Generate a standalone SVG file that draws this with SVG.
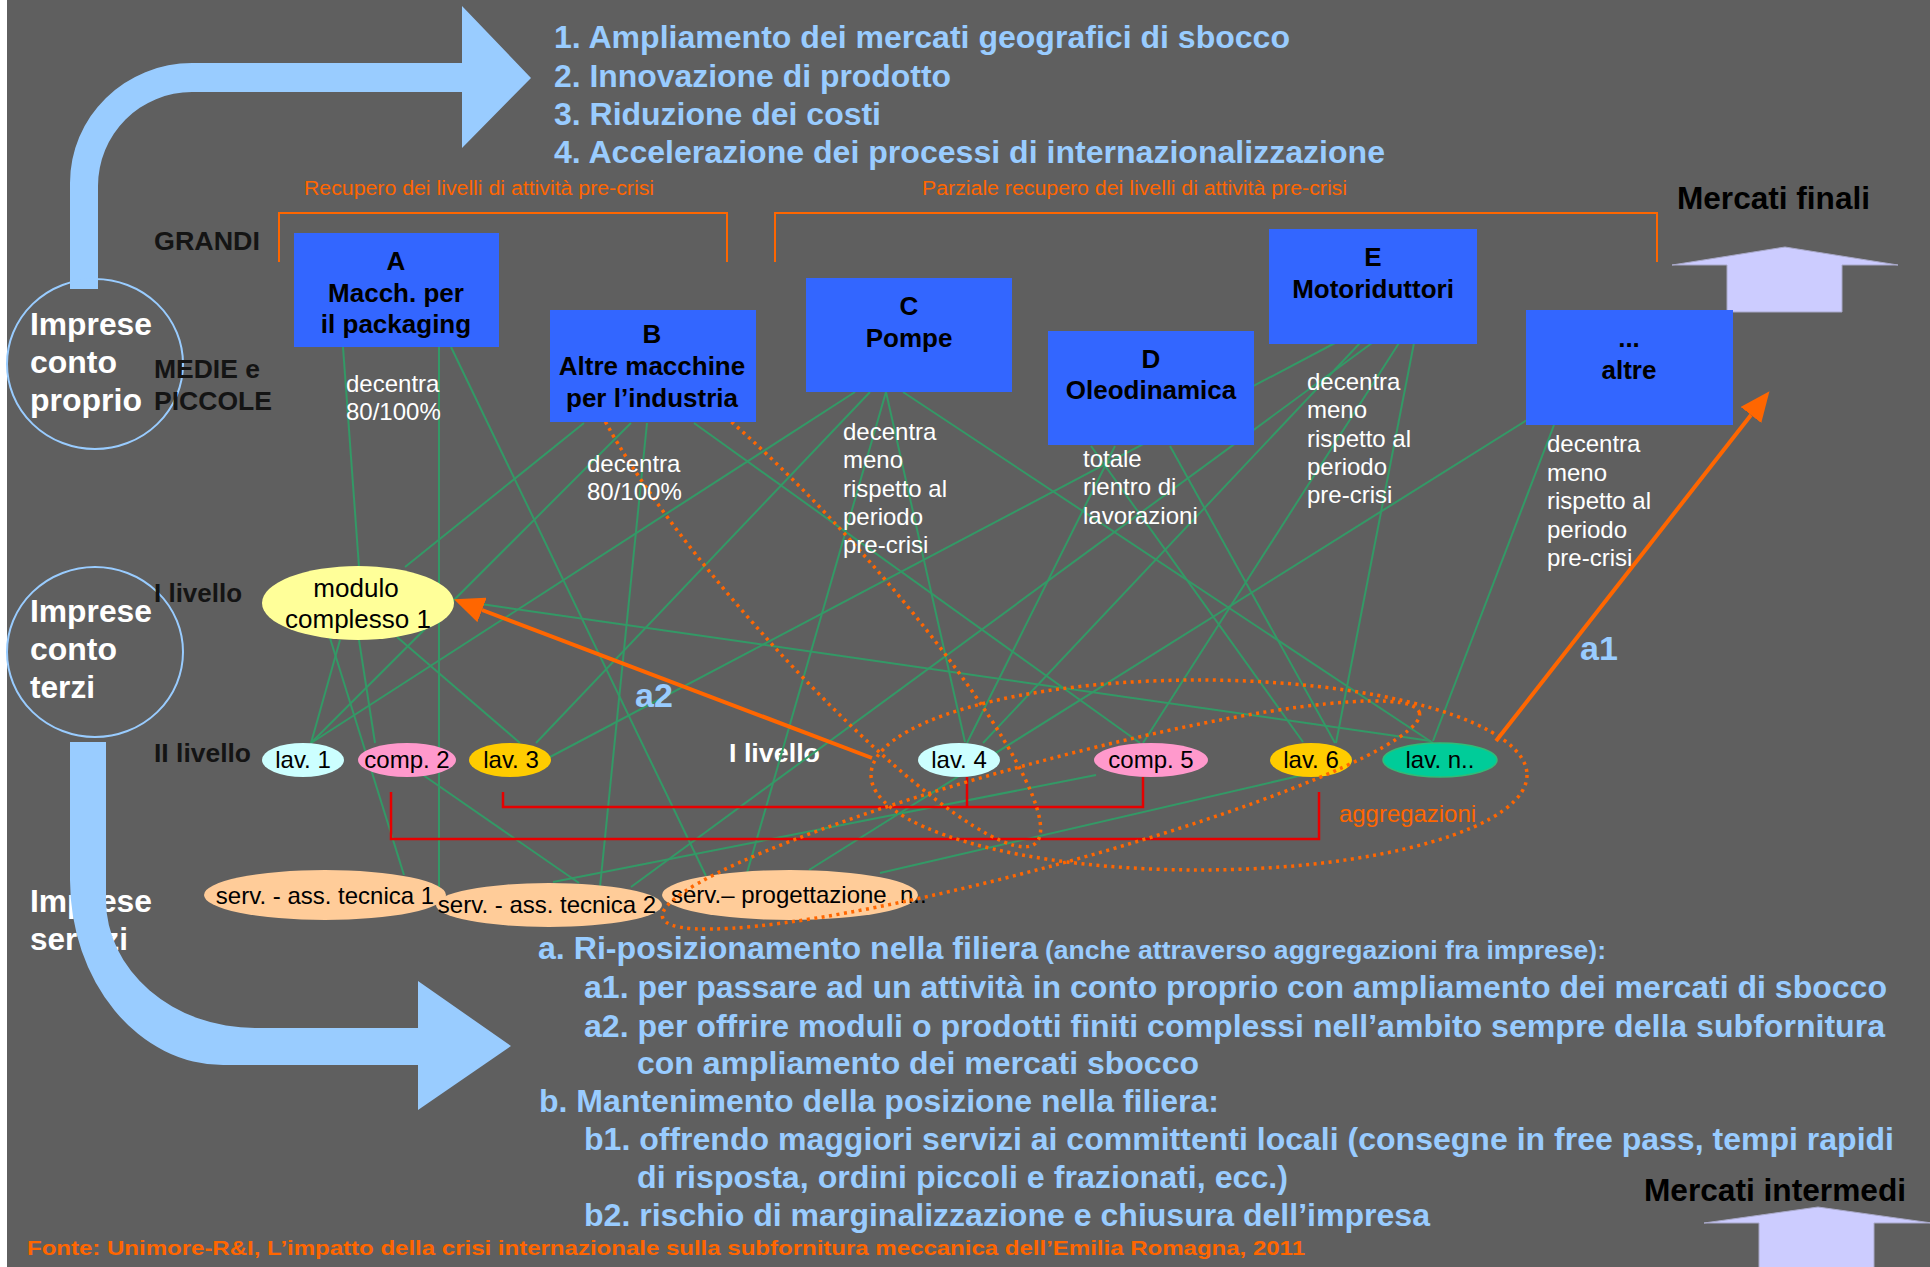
<svg xmlns="http://www.w3.org/2000/svg" width="1930" height="1267" viewBox="0 0 1930 1267">
<style>
text { font-family: "Liberation Sans", Arial, sans-serif; }
.lb { fill: #99ccff; font-weight: bold; font-size: 32px; }
.dk { fill: #141414; font-weight: bold; font-size: 26px; }
.wh { fill: #ffffff; font-size: 24px; }
.wc { fill: #ffffff; font-weight: bold; font-size: 32px; }
.bx { fill: #3366ff; }
.bt { fill: #000000; font-weight: bold; font-size: 26px; text-anchor: middle; }
.nt { fill: #000000; font-size: 24px; text-anchor: middle; }
.ol { fill: #ff6600; font-size: 20px; }
.gl line { stroke: #339966; stroke-width: 2; }
.red { stroke: #e60000; stroke-width: 2.5; fill: none; }
.dot { fill: none; stroke: #ff6600; stroke-width: 3.5; stroke-dasharray: 3 4.5; }
.arr { stroke: #ff6600; stroke-width: 4; fill: none; }
.big { fill: #99ccff; }
.circ { fill: none; stroke: #99ccff; stroke-width: 2; }
.up { fill: #ccccff; stroke: #a8a8c8; stroke-width: 1; }
</style>
<defs>
<marker id="ah" markerUnits="userSpaceOnUse" markerWidth="30" markerHeight="26" refX="0" refY="13" orient="auto">
<path d="M0,0 L30,13 L0,26 Z" fill="#ff6600"/>
</marker>
</defs>

<rect x="0" y="0" width="1930" height="1267" fill="#5f5f5f"/>
<rect x="0" y="0" width="7" height="1267" fill="#ffffff"/>

<!-- text under the lower arrow -->
<g id="label-servizi">
<text class="wc" x="30" y="912" textLength="122" lengthAdjust="spacingAndGlyphs">Imprese</text>
<text class="wc" x="30" y="950" textLength="98" lengthAdjust="spacingAndGlyphs">servizi</text>
</g>

<!-- big curved arrows -->
<g id="arrow-top">
<path class="big" d="M70,289 L70,183 A122,120 0 0 1 192,63 L462,63 L462,6 L531,78 L462,148 L462,92 L192,92 A94,94 0 0 0 98,186 L98,289 Z"/>
</g>
<g id="arrow-bottom">
<path class="big" d="M70,742 L106,742 L106,900 A149,128 0 0 0 255,1028 L418,1028 L418,981 L511,1046 L418,1110 L418,1065 L223,1065 A153,185 0 0 1 70,880 Z"/>
</g>

<!-- circles -->
<g id="circle-proprio">
<ellipse class="circ" cx="95" cy="364" rx="88" ry="85"/>
<text class="wc" x="30" y="335" textLength="122" lengthAdjust="spacingAndGlyphs">Imprese</text>
<text class="wc" x="30" y="373" textLength="87" lengthAdjust="spacingAndGlyphs">conto</text>
<text class="wc" x="30" y="411" textLength="112" lengthAdjust="spacingAndGlyphs">proprio</text>
</g>
<g id="circle-terzi">
<ellipse class="circ" cx="95" cy="652" rx="88" ry="85"/>
<text class="wc" x="30" y="622" textLength="122" lengthAdjust="spacingAndGlyphs">Imprese</text>
<text class="wc" x="30" y="660" textLength="87" lengthAdjust="spacingAndGlyphs">conto</text>
<text class="wc" x="30" y="698" textLength="65" lengthAdjust="spacingAndGlyphs">terzi</text>
</g>

<!-- row labels -->
<g id="row-labels">
<text class="dk" x="154" y="250" textLength="106" lengthAdjust="spacingAndGlyphs">GRANDI</text>
<text class="dk" x="154" y="378" textLength="106" lengthAdjust="spacingAndGlyphs">MEDIE e</text>
<text class="dk" x="154" y="410" textLength="118" lengthAdjust="spacingAndGlyphs">PICCOLE</text>
<text class="dk" x="154" y="602" textLength="88" lengthAdjust="spacingAndGlyphs">I livello</text>
<text class="dk" x="154" y="762" textLength="97" lengthAdjust="spacingAndGlyphs">II livello</text>
<text class="dk" x="729" y="762" textLength="91" lengthAdjust="spacingAndGlyphs" fill="#ffffff" style="fill:#ffffff">I livello</text>
</g>

<!-- top list -->
<g id="top-list">
<text class="lb" x="554" y="48" textLength="736" lengthAdjust="spacingAndGlyphs">1. Ampliamento dei mercati geografici di sbocco</text>
<text class="lb" x="554" y="87" textLength="397" lengthAdjust="spacingAndGlyphs">2. Innovazione di prodotto</text>
<text class="lb" x="554" y="125" textLength="327" lengthAdjust="spacingAndGlyphs">3. Riduzione dei costi</text>
<text class="lb" x="554" y="163" textLength="831" lengthAdjust="spacingAndGlyphs">4. Accelerazione dei processi di internazionalizzazione</text>
</g>

<!-- orange brackets -->
<g id="brackets">
<path d="M279,262 V213 H727 V262" fill="none" stroke="#ff6600" stroke-width="2"/>
<path d="M775,262 V213 H1657 V262" fill="none" stroke="#ff6600" stroke-width="2"/>
<text class="ol" x="304" y="195" textLength="350" lengthAdjust="spacingAndGlyphs">Recupero dei livelli di attività pre-crisi</text>
<text class="ol" x="922" y="195" textLength="425" lengthAdjust="spacingAndGlyphs">Parziale recupero dei livelli di attività pre-crisi</text>
</g>

<!-- market arrows -->
<g id="mercati-finali">
<path class="up" d="M1672,265 L1785,247 L1898,265 L1842,265 L1842,312 L1727,312 L1727,265 Z"/>
<text class="b" x="1677" y="209" font-size="31" font-weight="bold" fill="#000000" textLength="193" lengthAdjust="spacingAndGlyphs">Mercati finali</text>
</g>
<g id="mercati-intermedi">
<path class="up" d="M1704,1223 L1818,1207 L1932,1223 L1874,1223 L1874,1270 L1759,1270 L1759,1223 Z"/>
<text x="1644" y="1201" font-size="32" font-weight="bold" fill="#000000" textLength="262" lengthAdjust="spacingAndGlyphs">Mercati intermedi</text>
</g>

<!-- connectors -->
<g id="connectors">
<g class="gl">
<line x1="343" y1="347" x2="359" y2="567"/>
<line x1="439" y1="347" x2="439" y2="887"/>
<line x1="451" y1="347" x2="706" y2="876"/>
<line x1="584" y1="423" x2="405" y2="567"/>
<line x1="631" y1="423" x2="311" y2="743"/>
<line x1="647" y1="423" x2="600" y2="887"/>
<line x1="694" y1="423" x2="1140" y2="743"/>
<line x1="340" y1="640" x2="311" y2="743"/>
<line x1="330" y1="638" x2="404" y2="875"/>
<line x1="359" y1="640" x2="375" y2="743"/>
<line x1="397" y1="637" x2="520" y2="743"/>
<line x1="474" y1="603" x2="1431" y2="741"/>
<line x1="855" y1="392" x2="311" y2="743"/>
<line x1="870" y1="392" x2="536" y2="743"/>
<line x1="886" y1="392" x2="747" y2="873"/>
<line x1="886" y1="392" x2="965" y2="742"/>
<line x1="903" y1="392" x2="1433" y2="743"/>
<line x1="1115" y1="446" x2="967" y2="743"/>
<line x1="1091" y1="446" x2="1303" y2="742"/>
<line x1="1170" y1="446" x2="1335" y2="743"/>
<line x1="1335" y1="343" x2="550" y2="757"/>
<line x1="1372" y1="343" x2="631" y2="887"/>
<line x1="1399" y1="343" x2="1143" y2="743"/>
<line x1="1414" y1="343" x2="1336" y2="743"/>
<line x1="1360" y1="343" x2="983" y2="743"/>
<line x1="1527" y1="420" x2="809" y2="870"/>
<line x1="1554" y1="425" x2="1433" y2="741"/>
<line x1="423" y1="775" x2="579" y2="883"/>
<line x1="553" y1="882" x2="1096" y2="775"/>
<line x1="880" y1="873" x2="1303" y2="775"/>
</g>
<path class="red" d="M503,792 V807 H1143 V777"/>
<path class="red" d="M967,807 V777"/>
<path class="red" d="M391,792 V839 H1319 V792"/>
<ellipse class="dot" cx="811" cy="592" rx="337" ry="64" transform="rotate(48.2 811 592)"/>
</g>

<!-- boxes -->
<g id="node-A">
<rect class="bx" x="294" y="233" width="205" height="114"/>
<text class="bt" x="396" y="270">A</text>
<text class="bt" x="396" y="302">Macch. per</text>
<text class="bt" x="396" y="333">il packaging</text>
</g>
<g id="node-B">
<rect class="bx" x="550" y="310" width="206" height="112"/>
<text class="bt" x="652" y="343">B</text>
<text class="bt" x="652" y="375">Altre macchine</text>
<text class="bt" x="652" y="407">per l’industria</text>
</g>
<g id="node-C">
<rect class="bx" x="806" y="278" width="206" height="114"/>
<text class="bt" x="909" y="315">C</text>
<text class="bt" x="909" y="347">Pompe</text>
</g>
<g id="node-D">
<rect class="bx" x="1048" y="331" width="206" height="114"/>
<text class="bt" x="1151" y="368">D</text>
<text class="bt" x="1151" y="399">Oleodinamica</text>
</g>
<g id="node-E">
<rect class="bx" x="1269" y="229" width="208" height="115"/>
<text class="bt" x="1373" y="266">E</text>
<text class="bt" x="1373" y="298">Motoriduttori</text>
</g>
<g id="node-altre">
<rect class="bx" x="1526" y="310" width="207" height="115"/>
<text class="bt" x="1629" y="347">...</text>
<text class="bt" x="1629" y="379">altre</text>
</g>

<!-- descriptive notes -->
<g id="notes">
<text class="wh" x="346" y="392">decentra</text>
<text class="wh" x="346" y="420">80/100%</text>
<text class="wh" x="587" y="472">decentra</text>
<text class="wh" x="587" y="500">80/100%</text>
<text class="wh" x="843" y="440">decentra</text>
<text class="wh" x="843" y="468">meno</text>
<text class="wh" x="843" y="497">rispetto al</text>
<text class="wh" x="843" y="525">periodo</text>
<text class="wh" x="843" y="553">pre-crisi</text>
<text class="wh" x="1083" y="467">totale</text>
<text class="wh" x="1083" y="495">rientro di</text>
<text class="wh" x="1083" y="524">lavorazioni</text>
<text class="wh" x="1307" y="390">decentra</text>
<text class="wh" x="1307" y="418">meno</text>
<text class="wh" x="1307" y="447">rispetto al</text>
<text class="wh" x="1307" y="475">periodo</text>
<text class="wh" x="1307" y="503">pre-crisi</text>
<text class="wh" x="1547" y="452">decentra</text>
<text class="wh" x="1547" y="481">meno</text>
<text class="wh" x="1547" y="509">rispetto al</text>
<text class="wh" x="1547" y="538">periodo</text>
<text class="wh" x="1547" y="566">pre-crisi</text>
</g>

<!-- ellipse nodes -->
<g id="node-modulo">
<ellipse cx="358" cy="603" rx="96" ry="37" fill="#ffff99"/>
<text class="nt" x="356" y="597" font-size="26" style="font-size:26px">modulo</text>
<text class="nt" x="358" y="628" style="font-size:26px">complesso 1</text>
</g>
<g id="node-lav1">
<ellipse cx="303" cy="760" rx="41" ry="17" fill="#ccffff"/>
<text class="nt" x="303" y="768">lav. 1</text>
</g>
<g id="node-comp2">
<ellipse cx="407" cy="760" rx="49" ry="17" fill="#ff99cc"/>
<text class="nt" x="407" y="768">comp. 2</text>
</g>
<g id="node-lav3">
<ellipse cx="510" cy="760" rx="41" ry="17" fill="#ffcc00"/>
<text class="nt" x="511" y="768">lav. 3</text>
</g>
<g id="node-lav4">
<ellipse cx="959" cy="760" rx="41" ry="17" fill="#ccffff"/>
<text class="nt" x="959" y="768">lav. 4</text>
</g>
<g id="node-comp5">
<ellipse cx="1151" cy="760" rx="57" ry="17" fill="#ff99cc"/>
<text class="nt" x="1151" y="768">comp. 5</text>
</g>
<g id="node-lav6">
<ellipse cx="1311" cy="760" rx="41" ry="17" fill="#ffcc00"/>
<text class="nt" x="1311" y="768">lav. 6</text>
</g>
<g id="node-lavn">
<ellipse cx="1440" cy="760" rx="57" ry="17" fill="#00cc99" stroke="#33bb77" stroke-width="1.5"/>
<text class="nt" x="1440" y="768">lav. n..</text>
</g>
<g id="node-serv1">
<ellipse cx="325" cy="895" rx="121" ry="25" fill="#ffcc99"/>
<text class="nt" x="325" y="904">serv. - ass. tecnica 1</text>
</g>
<g id="node-serv2">
<ellipse cx="549" cy="905" rx="113" ry="22" fill="#ffcc99"/>
<text class="nt" x="547" y="913">serv. - ass. tecnica 2</text>
</g>
<g id="node-servprog">
<ellipse cx="790" cy="895" rx="128" ry="25" fill="#ffcc99"/>
<text class="nt" x="671" y="903" style="text-anchor:start" xml:space="preserve">serv.– progettazione  n..</text>
</g>

<!-- aggregations and strategy arrows -->
<g id="aggregations">
<ellipse class="dot" cx="1199" cy="775" rx="328" ry="95"/>
<ellipse class="dot" cx="1041" cy="815" rx="392" ry="52" transform="rotate(-15.15 1041 815)"/>
<text x="1339" y="822" fill="#ff6600" font-size="24" textLength="137" lengthAdjust="spacingAndGlyphs">aggregazioni</text>
</g>
<g id="strategy-arrows">
<line class="arr" x1="872" y1="758" x2="482" y2="610" marker-end="url(#ah)"/>
<line class="arr" x1="1496" y1="741" x2="1751" y2="415" marker-end="url(#ah)"/>
<text class="lb" x="635" y="707" style="font-size:34px">a2</text>
<text class="lb" x="1580" y="660" style="font-size:34px">a1</text>
</g>

<!-- bottom list -->
<g id="bottom-list">
<text class="lb" x="538" y="959" textLength="500" lengthAdjust="spacingAndGlyphs">a. Ri-posizionamento nella filiera</text>
<text class="lb" x="1045" y="959" style="font-size:26px" textLength="561" lengthAdjust="spacingAndGlyphs">(anche attraverso aggregazioni fra imprese):</text>
<text class="lb" x="584" y="998" textLength="1303" lengthAdjust="spacingAndGlyphs">a1. per passare ad un attività in conto proprio con ampliamento dei mercati di sbocco</text>
<text class="lb" x="584" y="1037" textLength="1301" lengthAdjust="spacingAndGlyphs">a2. per offrire moduli o prodotti finiti complessi nell’ambito sempre della subfornitura</text>
<text class="lb" x="637" y="1074" textLength="562" lengthAdjust="spacingAndGlyphs">con ampliamento dei mercati sbocco</text>
<text class="lb" x="539" y="1112" textLength="680" lengthAdjust="spacingAndGlyphs">b. Mantenimento della posizione nella filiera:</text>
<text class="lb" x="584" y="1150" textLength="1310" lengthAdjust="spacingAndGlyphs">b1. offrendo maggiori servizi ai committenti locali (consegne in free pass, tempi rapidi</text>
<text class="lb" x="637" y="1188" textLength="651" lengthAdjust="spacingAndGlyphs">di risposta, ordini piccoli e frazionati, ecc.)</text>
<text class="lb" x="584" y="1226" textLength="846" lengthAdjust="spacingAndGlyphs">b2. rischio di marginalizzazione e chiusura dell’impresa</text>
<text x="27" y="1255" fill="#ff6600" font-size="21" font-weight="bold" textLength="1278" lengthAdjust="spacingAndGlyphs">Fonte: Unimore-R&amp;I, L’impatto della crisi internazionale sulla subfornitura meccanica dell’Emilia Romagna, 2011</text>
</g>
</svg>
